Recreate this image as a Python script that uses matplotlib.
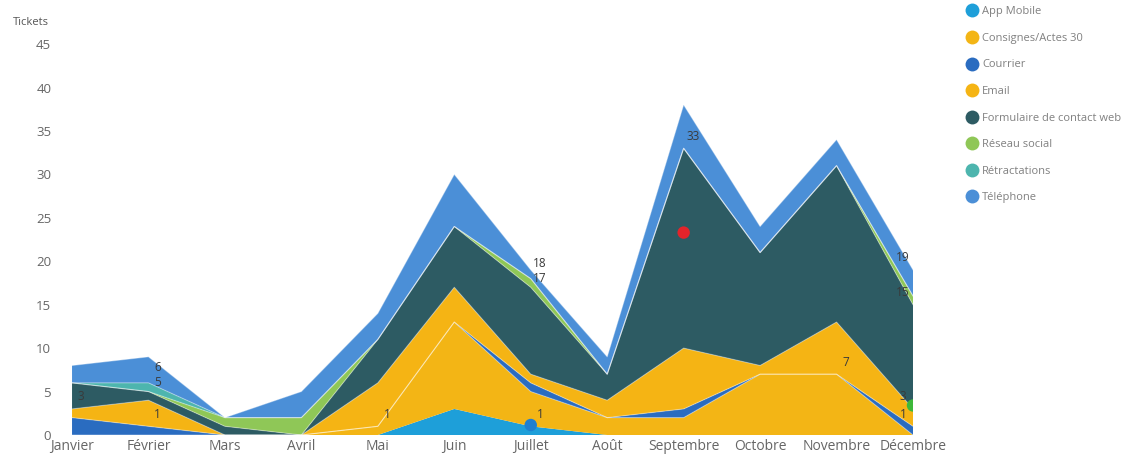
import matplotlib
matplotlib.use("Agg")
import matplotlib.pyplot as plt
from matplotlib.lines import Line2D
import numpy as np

# Data #
months = ['Janvier', 'Février', 'Mars', 'Avril', 'Mai', 'Juin',
          'Juillet', 'Août', 'Septembre', 'Octobre', 'Novembre', 'Décembre']

series = ['App Mobile', 'Consignes/Actes 30', 'Courrier', 'Email',
          'Formulaire de contact web', 'Réseau social', 'Rétractations', 'Téléphone']

app_mobile   = [0, 0, 0, 0, 0, 3, 1, 0, 0, 0, 0, 0]
consignes    = [0, 0, 0, 0, 1, 10, 4, 2, 2, 7, 7, 0]
courrier     = [2, 1, 0, 0, 0, 0, 1, 0, 1, 0, 0, 1]
email        = [1, 3, 0, 0, 5, 4, 1, 2, 7, 1, 6, 2]
formulaire   = [3, 1, 1, 0, 5, 7, 10, 3, 23, 13, 18, 12]
reseau       = [0, 0, 1, 2, 0, 0, 1, 0, 0, 0, 0, 1]
retractation = [0, 1, 0, 0, 0, 0, 0, 0, 0, 0, 0, 0]
telephone    = [2, 3, 0, 3, 3, 6, 1, 2, 5, 3, 3, 3]

colors = ['#1E9FD9', '#F3B515', '#2A6CC0', '#F5B414',
          '#2D5B63', '#8FC757', '#4DB5AE', '#4B8FD7']

# data labels: (month index, series) -> shows cumulative top of that series
labels = [(0, 'Email'),
          (1, 'Rétractations'), (1, 'Formulaire de contact web'), (1, 'Courrier'),
          (4, 'Consignes/Actes 30'),
          (6, 'Réseau social'), (6, 'Formulaire de contact web'), (6, 'App Mobile'),
          (8, 'Formulaire de contact web'),
          (10, 'Consignes/Actes 30'),
          (11, 'Téléphone'), (11, 'Formulaire de contact web'), (11, 'Email'), (11, 'Courrier')]

# highlighted points (month index, value, colour)
dots_x = [6, 8, 11]
dots_y = [1.15, 23.3, 3.4]
dots_c = ['#1F7FD0', '#E3242B', '#3DB83A']

plt.rcParams['font.family'] = ['Open Sans', 'DejaVu Sans']

values = np.array([app_mobile, consignes, courrier, email,
                   formulaire, reseau, retractation, telephone], dtype=float)
cum = np.cumsum(values, axis=0)
x = np.arange(len(months))

fig = plt.figure(figsize=(11.47, 4.59), dpi=100)
ax = fig.add_axes([0.0628, 0.0523, 0.7332, 0.8517])

ax.stackplot(x, values, colors=colors, linewidth=0)

# light outlines between the bands
for i in range(1, len(series)):
    ax.plot(x, cum[i], color='white', lw=0.8, alpha=0.35)

# labels sit a little above the point; labels only one unit apart get spread a bit
label_pos = {}
for m, name in labels:
    s = series.index(name)
    label_pos[(m, name)] = cum[s, m] + 1.4
for m, name in labels:
    s = series.index(name)
    for m2, name2 in labels:
        s2 = series.index(name2)
        if m2 == m and name2 != name and cum[s2, m] - cum[s, m] == 1:
            label_pos[(m, name)] -= 0.35
            label_pos[(m2, name2)] += 0.35

for m, name in labels:
    s = series.index(name)
    dx = -0.13 if m == len(months) - 1 else 0.12
    ax.text(m + dx, label_pos[(m, name)], str(int(cum[s, m])), ha='center', va='center',
            fontsize=8.5, color='#3a3a3a')

ax.scatter(dots_x, dots_y, s=80, c=dots_c, zorder=5, edgecolors='none')

ax.set_xlim(0, len(months) - 1)
ax.set_ylim(0, 45)
ax.set_yticks(range(0, 46, 5))
ax.set_xticks(x)
ax.set_xticklabels(months)
ax.tick_params(axis='both', length=0, labelcolor='#666666')
ax.tick_params(axis='y', pad=15, labelsize=9.5)
ax.tick_params(axis='x', pad=3, labelsize=10)
for sp in ax.spines.values():
    sp.set_visible(False)

fig.text(0.011, 0.95, 'Tickets', fontsize=8, color='#555555', va='center', ha='left')

handles = [Line2D([], [], marker='o', ls='', markersize=10, markerfacecolor=c,
                  markeredgecolor='none') for c in colors]
fig.legend(handles, series, loc='upper left', bbox_to_anchor=(0.834, 1.008),
           frameon=False, fontsize=8, labelspacing=1.4, handletextpad=0.4,
           handlelength=1.0, labelcolor='#808080')

fig.savefig('out.png', dpi=100)
